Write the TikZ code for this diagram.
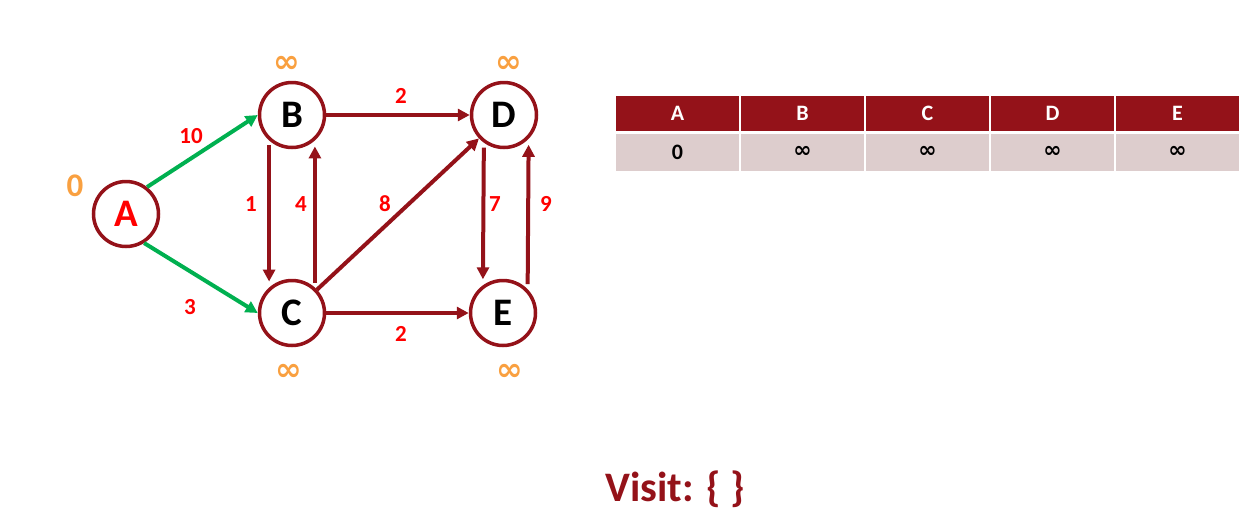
\documentclass[tikz,border=0pt]{standalone}
\usepackage{fontspec}
\setmainfont{Carlito}
\newfontfamily\symfont{DejaVu Sans}
\usetikzlibrary{arrows.meta}
\definecolor{dred}{HTML}{941219}
\definecolor{lgreen}{HTML}{00B050}
\definecolor{orng}{HTML}{F9A040}
\definecolor{rowpink}{HTML}{DDCDCD}
\definecolor{lblred}{HTML}{FF0000}
\newcommand{\infsym}{{\symfont\bfseries ∞}}
\tikzset{
  vtx/.style={circle, draw=dred, line width=3.5pt, fill=white, minimum size=65pt, inner sep=0pt,
    font=\fontsize{39}{40}\selectfont\bfseries},
  edge/.style={draw=dred, line width=4pt, -{Triangle[length=12pt,width=12pt]}},
  vedge/.style={edge, shorten <=5pt, shorten >=6pt},
  gedge/.style={draw=lgreen, line width=4pt, -{Triangle[length=12pt,width=12pt]}},
  wlbl/.style={text=lblred, font=\fontsize{23}{25}\selectfont\bfseries},
  dist/.style={text=orng, font=\fontsize{32}{34}\selectfont},
  hcell/.style={fill=dred, text=white, minimum width=123pt, minimum height=35pt, inner sep=0pt,
    font=\fontsize{22}{24}\selectfont\bfseries},
  rcell/.style={fill=rowpink, text=black, minimum width=123pt, minimum height=37pt, inner sep=0pt,
    font=\fontsize{22}{24}\selectfont\bfseries},
}
\begin{document}
\begin{tikzpicture}[x=1pt,y=-1pt]
\useasboundingbox (0,0) rectangle (1246,520);
% vertices
\node[vtx, text=lblred] (A) at (126,214) {A};
\node[vtx] (B) at (292,115) {B};
\node[vtx] (C) at (292,313) {C};
\node[vtx] (D) at (504,115) {D};
\node[vtx] (E) at (503,313) {E};
% distances
\node[dist, font=\fontsize{33}{34}\selectfont\bfseries] (dA) at (75,186) {0};
\node[dist] (dB) at (287,64) {\infsym};
\node[dist] (dD) at (509,64) {\infsym};
\node[dist] (dC) at (289,372) {\infsym};
\node[dist] (dE) at (510,372) {\infsym};
% edges
\draw[gedge] (A.52) -- (B.west);
\draw[gedge] (A.-58) -- (C.west);
\draw[edge] (B.east) -- (D.west);
\draw[edge] (C.east) -- (E.west);
\draw[vedge] (B.228) -- (C.132);
\draw[vedge] (C.48) -- (B.312);
\draw[edge] (C) -- (D);
\draw[vedge] (D.234) -- (E.126);
\draw[vedge] (E.44) -- (D.316);
% weights
\node[wlbl] (w1) at (191,136) {10};
\node[wlbl] (w2) at (190,307) {3};
\node[wlbl] (w3) at (401,96) {2};
\node[wlbl] (w4) at (401,334) {2};
\node[wlbl] (w5) at (251,204) {1};
\node[wlbl] (w6) at (301,204) {4};
\node[wlbl] (w7) at (385,204) {8};
\node[wlbl] (w8) at (495,204) {7};
\node[wlbl] (w9) at (546,204) {9};
% table
\foreach \l [count=\i from 0] in {A,B,C,D,E} {
  \node[hcell] (h\l) at (677.5+125*\i,113.5) {\l};
}
\node[rcell] (rA) at (677.5,152) {0};
\foreach \l [count=\i from 1] in {B,C,D,E} {
  \node[rcell, font=\fontsize{22}{24}\selectfont] (r\l) at (677.5+125*\i,152) {\infsym};
}
% visit
\node[text=dred, font=\fontsize{42}{44}\selectfont\bfseries] (visit) at (675,489) {Visit: \{ \}};
\end{tikzpicture}
\end{document}
